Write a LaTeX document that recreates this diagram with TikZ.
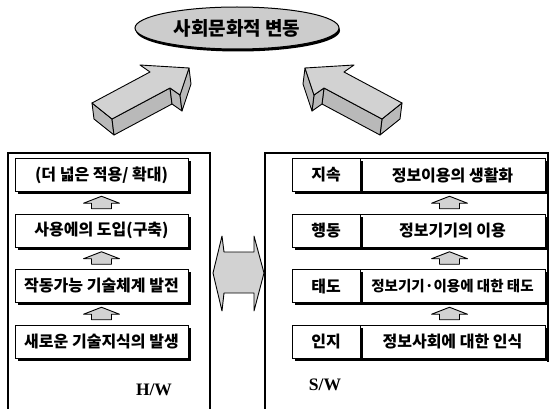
\documentclass[tikz,border=0pt]{standalone}
\usepackage{fontspec}
\newfontfamily\kr{Noto Sans CJK KR}
\newfontfamily\tnr{Liberation Serif}
\usetikzlibrary{shapes.geometric,shadows,calc}
\begin{document}
\begin{tikzpicture}[x=1pt,y=-1pt,
  panel/.style={line width=1.3pt},
  tbox/.style={draw, line width=1pt, fill=white, minimum height=33pt, inner sep=0pt,
    font=\kr\bfseries\fontsize{16}{18}\selectfont,
    drop shadow={shadow xshift=2.5pt, shadow yshift=-2.5pt, fill=black, opacity=1}},
  topface/.style={fill=gray!35, draw=black, line width=0.9pt, line join=round},
  sideface/.style={fill=gray!55, draw=black, line width=0.9pt, line join=round},
  arrfill/.style={fill=gray!35, draw=black, line width=0.9pt, line join=round},
  uparr/.pic={\filldraw[arrfill] (0,-6.5) -- (18,0.5) -- (10,0.5) -- (10,6) -- (-10,6) -- (-10,0.5) -- (-18,0.5) -- cycle;}
]
\useasboundingbox (0,0) rectangle (551,409);

% top ellipse
\node[ellipse, draw, line width=1pt, fill=gray!40, minimum width=204pt, minimum height=42pt,
  drop shadow={shadow xshift=1pt, shadow yshift=-2.5pt, fill=black, opacity=1},
  font=\kr\bfseries\fontsize{19}{21}\selectfont] (soc) at (237,28) {사회문화적 변동};

% big 3D arrow, left (points to the upper right)
\filldraw[sideface] (92,103) -- (112,119) -- (114,135) -- (94,119) -- cycle;
\filldraw[sideface] (112,119) -- (170,88) -- (172,104) -- (114,135) -- cycle;
\filldraw[sideface] (170,88) -- (180,95) -- (182,111) -- (172,104) -- cycle;
\filldraw[sideface] (180,95) -- (189,68) -- (191,84) -- (182,111) -- cycle;
\filldraw[topface] (92,103) -- (150,72) -- (140,65) -- (189,68) -- (180,95) -- (170,88) -- (112,119) -- cycle;

% big 3D arrow, right (points to the upper left)
\filldraw[sideface] (402,103) -- (382,119) -- (380,135) -- (400,119) -- cycle;
\filldraw[sideface] (382,119) -- (324,88) -- (322,104) -- (380,135) -- cycle;
\filldraw[sideface] (324,88) -- (314,95) -- (312,111) -- (322,104) -- cycle;
\filldraw[sideface] (314,95) -- (305,68) -- (303,84) -- (312,111) -- cycle;
\filldraw[topface] (402,103) -- (344,72) -- (354,65) -- (305,68) -- (314,95) -- (324,88) -- (382,119) -- cycle;

% panels
\draw[panel] (8,409) -- (8,153) -- (210,153) -- (210,409);
\draw[panel] (265,409) -- (265,153) -- (548,153) -- (548,362);

% left boxes
\node[tbox, minimum width=173pt] (L1) at (101.5,175) {(더 넓은 적용/ 확대)};
\node[tbox, minimum width=173pt] (L2) at (101.5,230.5) {사용에의 도입(구축)};
\node[tbox, minimum width=173pt] (L3) at (101.5,286) {작동가능 기술체계 발전};
\node[tbox, minimum width=173pt] (L4) at (101.5,341.5) {새로운 기술지식의 발생};

% right boxes
\node[tbox, minimum width=185pt] (R1) at (452.5,175) {정보이용의 생활화};
\node[tbox, minimum width=185pt] (R2) at (452.5,230.5) {정보기기의 이용};
\node[tbox, minimum width=185pt, font=\kr\bfseries\fontsize{14.5}{16}\selectfont] (R3) at (452.5,286) {정보기기·이용에 대한 태도};
\node[tbox, minimum width=185pt] (R4) at (452.5,341.5) {정보사회에 대한 인식};
\node[tbox, minimum width=68pt] (R1a) at (326,175) {지속};
\node[tbox, minimum width=68pt] (R2a) at (326,230.5) {행동};
\node[tbox, minimum width=68pt] (R3a) at (326,286) {태도};
\node[tbox, minimum width=68pt] (R4a) at (326,341.5) {인지};

% small up arrows
\pic at ($(L1.south)!0.5!(L2.north)$) {uparr};
\pic at ($(L2.south)!0.5!(L3.north)$) {uparr};
\pic at ($(L3.south)!0.5!(L4.north)$) {uparr};
\pic at ($(R1.south)!0.5!(R2.north)+(-3,0)$) {uparr};
\pic at ($(R2.south)!0.5!(R3.north)+(-3,0)$) {uparr};
\pic at ($(R3.south)!0.5!(R4.north)+(-3,0)$) {uparr};

% double arrow between panels
\filldraw[arrfill] (213,273) -- (222,236) -- (224,252) -- (254,252) -- (254,236) -- (264,273)
  -- (254,311) -- (254,293) -- (224,293) -- (222,311) -- cycle;

% labels
\node[font=\tnr\bfseries\fontsize{17.5}{18}\selectfont, inner sep=0pt] (hw) at (154,390) {H/W};
\node[font=\tnr\bfseries\fontsize{17.5}{18}\selectfont, inner sep=0pt] (sw) at (325,385) {S/W};
\end{tikzpicture}
\end{document}
